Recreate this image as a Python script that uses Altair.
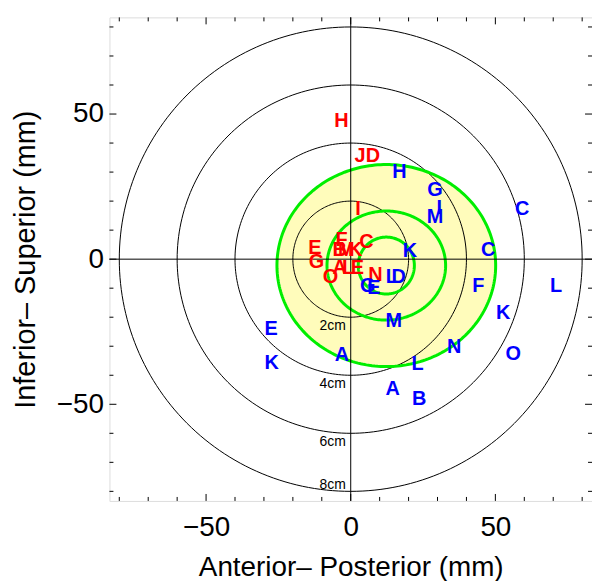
import altair as alt
import pandas as pd
import numpy as np

# ---- data ----
ring_radii = [20, 40, 60, 80]
ring_labels = ["2cm", "4cm", "6cm", "8cm"]
ring_label_y = [-23, -43, -63, -77.7]

green_cx = 12.3
green_cy = -2.2
green_rx = [37.8, 20.5, 9.7]
green_ry = [34.8, 18.8, 9.8]

red_letters = ["H", "J", "D", "I", "F", "C", "E", "G", "O", "N",
               "B", "M", "K", "A", "L", "E"]
red_x = [-3.2, 3.2, 7.7, 2.5, -3.2, 5.4, -12.4, -11.8, -7.0, 8.5,
         -3.8, -1.5, 1.5, -3.8, -0.9, 2.3]
red_y = [47.7, 35.7, 35.7, 17.4, 6.6, 6.0, 3.7, -0.9, -6.0, -5.4,
         3.2, 3.2, 3.2, -2.9, -2.9, -2.9]

blue_letters = ["H", "G", "I", "M", "C", "C", "K", "F", "L", "K", "N", "O",
                "L", "D", "G", "E", "M", "E", "K", "A", "L", "A", "B"]
blue_x = [16.8, 29.1, 30.6, 29.1, 47.5, 59.3, 20.5, 44.1, 71.0, 52.7, 35.8, 56.2,
          14.2, 16.6, 5.9, 8.0, 14.9, -27.5, -27.3, -3.0, 23.1, 14.5, 23.7]
blue_y = [30.0, 23.7, 17.5, 14.6, 3.2, 17.2, 2.8, -9.2, -9.2, -18.5, -30.3, -32.8,
          -6.0, -6.0, -9.4, -10.0, -21.4, -24.2, -35.7, -33.2, -36.2, -44.8, -48.2]

minor_ticks = [-80, -70, -60, -40, -30, -20, -10, 10, 20, 30, 40, 60, 70, 80]
major_ticks = [-50, 0, 50]

# ---- derived tables ----
W, H = 485, 486
FONT = "Liberation Sans"

t = np.linspace(0, 2 * np.pi, 241)
rings = pd.concat([
    pd.DataFrame({"ring": i, "idx": np.arange(len(t)), "x": r * np.cos(t), "y": r * np.sin(t)})
    for i, r in enumerate(ring_radii)
])
greens = pd.concat([
    pd.DataFrame({"g": i, "idx": np.arange(len(t)),
                  "x": green_cx + rx * np.cos(t), "y": green_cy + ry * np.sin(t)})
    for i, (rx, ry) in enumerate(zip(green_rx, green_ry))
])
th = np.linspace(np.pi, 0, 181)
fill = pd.DataFrame({"x": green_cx + green_rx[0] * np.cos(th),
                     "y": green_cy + green_ry[0] * np.sin(th),
                     "y2": green_cy - green_ry[0] * np.sin(th)})
labels = pd.DataFrame({"lab": ring_labels, "y": ring_label_y, "x": 0})
letters = pd.concat([
    pd.DataFrame({"t": red_letters, "x": red_x, "y": red_y, "grp": "red"}),
    pd.DataFrame({"t": blue_letters, "x": blue_x, "y": blue_y, "grp": "blue"}),
])
minor_df = pd.DataFrame({"v": minor_ticks})
major_df = pd.DataFrame({"v": major_ticks})
zero_df = pd.DataFrame({"v": [0]})

xs = alt.Scale(domain=[-83.4, 83.4], nice=False, zero=False)
ys = alt.Scale(domain=[-83.3, 83.3], nice=False, zero=False)

x_axis = alt.Axis(values=[-50, 0, 50], ticks=False, domain=False, grid=False,
                  labelFontSize=28, labelFont=FONT, labelColor="black", labelPadding=13,
                  title="Anterior\u2013 Posterior (mm)", titleFontSize=28, titleFont=FONT,
                  titleFontWeight="normal", titleColor="black", titlePadding=12)
y_axis = alt.Axis(values=[-50, 0, 50], ticks=False, domain=False, grid=False,
                  labelFontSize=28, labelFont=FONT, labelColor="black", labelPadding=6,
                  title="Inferior\u2013 Superior (mm)", titleFontSize=29, titleFont=FONT,
                  titleFontWeight="normal", titleColor="black", titlePadding=16)

XA = lambda f: alt.X(f, scale=xs, axis=x_axis)
YA = lambda f: alt.Y(f, scale=ys, axis=y_axis)

fill_layer = alt.Chart(fill).mark_area(color="#FFFCBB", fillOpacity=1, orient="vertical").encode(
    x=XA("x:Q"), y=YA("y:Q"), y2="y2:Q")

ring_layer = alt.Chart(rings).mark_line(color="black", strokeWidth=1).encode(
    x=XA("x:Q"), y=YA("y:Q"), detail="ring:N", order="idx:Q")

green_layer = alt.Chart(greens).mark_line(color="#00EE00", strokeWidth=3).encode(
    x=XA("x:Q"), y=YA("y:Q"), detail="g:N", order="idx:Q")

vline = alt.Chart(zero_df).mark_rule(color="black", strokeWidth=1).encode(x=XA("v:Q"))
hline = alt.Chart(zero_df).mark_rule(color="black", strokeWidth=1).encode(y=YA("v:Q"))

def tick_layers(df, L):
    b = alt.Chart(df).mark_rule(color="black", strokeWidth=1)
    return [
        b.encode(x=XA("v:Q"), y=alt.value(H), y2=alt.value(H - L)),
        b.encode(x=XA("v:Q"), y=alt.value(0), y2=alt.value(L)),
        b.encode(y=YA("v:Q"), x=alt.value(0), x2=alt.value(L)),
        b.encode(y=YA("v:Q"), x=alt.value(W), x2=alt.value(W - L)),
    ]

label_layer = alt.Chart(labels).mark_text(align="right", baseline="middle", dx=-5,
                                          fontSize=14, font=FONT, color="black").encode(
    x=XA("x:Q"), y=YA("y:Q"), text="lab:N")

letter_layer = alt.Chart(letters).mark_text(align="center", baseline="middle",
                                            fontSize=20, font=FONT, fontWeight="bold").encode(
    x=XA("x:Q"), y=YA("y:Q"), text="t:N",
    color=alt.Color("grp:N", scale=alt.Scale(domain=["red", "blue"], range=["#FF0000", "#0000FF"]),
                    legend=None))

chart = alt.layer(
    fill_layer, ring_layer, green_layer, vline, hline,
    *tick_layers(minor_df, 4), *tick_layers(major_df, 7),
    label_layer, letter_layer
).properties(
    width=W, height=H,
    autosize=alt.AutoSizeParams(type="none"),
    padding={"left": 110, "top": 16, "right": 0, "bottom": 79},
).configure_view(stroke="black", strokeWidth=1).configure(background="white")

chart.save("out.html", embed_options={"renderer": "svg", "actions": False})
